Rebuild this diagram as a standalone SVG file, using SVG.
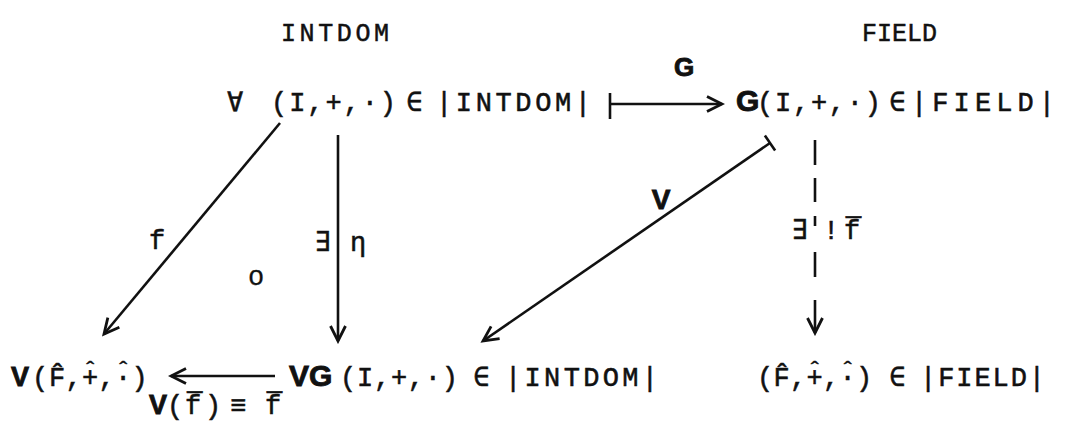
<svg xmlns="http://www.w3.org/2000/svg" width="1070" height="425" viewBox="0 0 1070 425">
<defs>
<style>
.t{font-family:"Liberation Mono","DejaVu Sans Mono",monospace;fill:#111;stroke:#111;stroke-width:0.55px;font-size:27px}
.hs{font-size:24px;stroke-width:0.4px}
.ti{font-family:"Liberation Mono","DejaVu Sans Mono",monospace;fill:#111;stroke:#111;stroke-width:0.5px;font-size:25px}
.b{font-family:"Liberation Sans","DejaVu Sans",sans-serif;font-weight:bold;fill:#111;stroke:#111;stroke-width:0.9px}
.ln{stroke:#111;stroke-width:2.6;fill:none}
</style>
<marker id="ah" markerUnits="userSpaceOnUse" orient="auto" viewBox="-17 -10 20 20" markerWidth="20" markerHeight="20" refX="0" refY="0">
<path d="M-15,-7.5 L0,0 L-15,7.5" fill="none" stroke="#111" stroke-width="2.8"/>
</marker>
<marker id="tick" markerUnits="userSpaceOnUse" orient="auto" viewBox="-3 -11 6 22" markerWidth="6" markerHeight="22" refX="0" refY="0">
<path d="M0,-9 L0,9" stroke="#111" stroke-width="2.6"/>
</marker>
</defs>
<rect width="1070" height="425" fill="#fff"/>

<g id="title-intdom"><text class="ti" x="281" y="41" textLength="108" lengthAdjust="spacing">INTDOM</text></g>
<g id="title-field"><text class="ti" x="862" y="41">FIELD</text></g>

<g id="node-forall">
<text class="t" x="227" y="111">∀</text>
<text class="t" x="271" y="111" textLength="125" lengthAdjust="spacing">(I,+,·)</text>
<text class="t" x="406" y="111">∈</text>
<text class="t" x="436" y="111" textLength="155" lengthAdjust="spacing">|INTDOM|</text>
</g>

<g id="node-G">
<text class="b" x="736" y="111" font-size="30">G</text>
<text class="t" x="757" y="111" textLength="124" lengthAdjust="spacing">(I,+,·)</text>
<text class="t" x="889" y="111">∈</text>
<text class="t" x="911" y="111" textLength="144" lengthAdjust="spacing">|FIELD|</text>
</g>

<g id="node-Vhat">
<text class="b" x="11" y="386" font-size="27">V</text>
<text class="t" y="386"><tspan x="32">(</tspan><tspan x="49">F̂</tspan><tspan x="65.5">,</tspan><tspan x="82">+</tspan><tspan class="hs" x="82.9" y="378">ˆ</tspan><tspan x="98.5" y="386">,</tspan><tspan x="115">·</tspan><tspan class="hs" x="115.9" y="378">ˆ</tspan><tspan x="131.5" y="386">)</tspan></text>
</g>

<g id="node-VG">
<text class="b" x="289" y="386" font-size="30">VG</text>
<text class="t" x="340" y="386" textLength="118" lengthAdjust="spacing">(I,+,·)</text>
<text class="t" x="473" y="386">∈</text>
<text class="t" x="505" y="386" textLength="153" lengthAdjust="spacing">|INTDOM|</text>
</g>

<g id="node-hat">
<text class="t" y="386"><tspan x="757">(</tspan><tspan x="773.5">F̂</tspan><tspan x="790">,</tspan><tspan x="806.5">+</tspan><tspan class="hs" x="807.4" y="378">ˆ</tspan><tspan x="823" y="386">,</tspan><tspan x="839.5">·</tspan><tspan class="hs" x="840.4" y="378">ˆ</tspan><tspan x="856" y="386">)</tspan></text>
<text class="t" x="889" y="386">∈</text>
<text class="t" x="920" y="386" textLength="125" lengthAdjust="spacing">|FIELD|</text>
</g>

<g id="connectors">
<line class="ln" x1="610" y1="93" x2="610" y2="119"/>
<line class="ln" x1="610" y1="104" x2="722" y2="104" marker-end="url(#ah)"/>
<line class="ln" x1="280" y1="123" x2="104" y2="334" marker-end="url(#ah)"/>
<line class="ln" x1="338" y1="135" x2="338" y2="341" marker-end="url(#ah)"/>
<line class="ln" x1="770" y1="143" x2="483" y2="341" marker-start="url(#tick)" marker-end="url(#ah)"/>
<line class="ln" x1="275" y1="376" x2="171" y2="376" marker-end="url(#ah)"/>
<line class="ln" x1="815" y1="140" x2="815" y2="165"/>
<line class="ln" x1="815" y1="178" x2="815" y2="202"/>
<line class="ln" x1="815" y1="216" x2="815" y2="226"/>
<line class="ln" x1="815" y1="252" x2="815" y2="277"/>
<line class="ln" x1="815" y1="300" x2="815" y2="333" marker-end="url(#ah)"/>
</g>

<g id="edge-labels">
<text class="b" x="684" y="76" font-size="26" text-anchor="middle">G</text>
<text class="t" x="157" y="249" text-anchor="middle">f</text>
<text class="t" x="323" y="251" text-anchor="middle">∃</text>
<text class="t" x="358" y="251" text-anchor="middle">η</text>
<text class="t" x="256" y="285" text-anchor="middle" font-size="25" style="stroke-width:0.3px">o</text>
<text class="b" x="661" y="209" font-size="28" text-anchor="middle">V</text>
<text class="t" x="800" y="239" text-anchor="middle">∃</text>
<text class="t" x="831" y="239" text-anchor="middle">!</text>
<text class="t" x="852" y="239" text-anchor="middle">f̅</text>
<text class="b" x="158" y="414" font-size="27" text-anchor="middle">V</text>
<text class="t" y="414"><tspan x="167">(</tspan><tspan x="185">f̅</tspan><tspan x="205">)</tspan></text>
<text class="t" x="238" y="414" text-anchor="middle">≡</text>
<text class="t" x="273" y="414" text-anchor="middle">f̅</text>
</g>
</svg>
